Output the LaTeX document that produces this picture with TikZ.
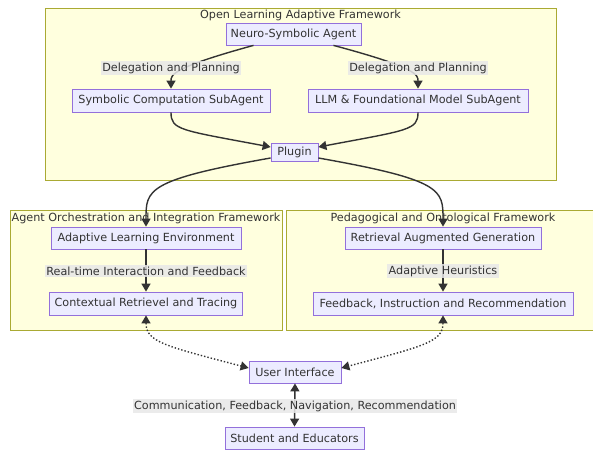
\documentclass[tikz,border=0pt]{standalone}
\usepackage{fontspec}
\setmainfont{DejaVu Sans}
\usetikzlibrary{arrows.meta,calc}
\definecolor{clfill}{HTML}{FFFFDE}
\definecolor{cldraw}{HTML}{AAAA33}
\definecolor{ndfill}{HTML}{ECECFF}
\definecolor{nddraw}{HTML}{9370DB}
\definecolor{txt}{HTML}{333333}
\definecolor{lbl}{HTML}{E8E8E8}
\tikzset{
  cluster/.style={draw=cldraw, fill=clfill, line width=0.8pt, inner sep=0pt},
  ctitle/.style={text=txt, font=\fontsize{11.2}{13}\selectfont, inner sep=0pt},
  box/.style={draw=nddraw, fill=ndfill, line width=0.8pt, text=txt, font=\fontsize{11.2}{13}\selectfont, minimum height=22pt, inner sep=0pt},
  elabel/.style={fill=lbl, fill opacity=0.85, text opacity=1, text=txt, font=\fontsize{11.2}{13}\selectfont, inner sep=1.5pt},
  arr/.style={draw=txt, line width=1.4pt, -{Triangle[length=8pt,width=9pt]}},
  darr/.style={draw=txt, line width=1.4pt, {Triangle[length=8pt,width=9pt]}-{Triangle[length=8pt,width=9pt]}},
  dotarr/.style={darr, dotted, line width=1.4pt}
}
\begin{document}
\begin{tikzpicture}[x=1pt,y=-1pt]
\useasboundingbox (0,0) rectangle (593,449);
% clusters
\node[cluster, minimum width=511pt, minimum height=172pt] (c1) at (300.5,94) {};
\node[ctitle] (t1) at (300.5,15) {Open Learning Adaptive Framework};
\node[cluster, minimum width=272pt, minimum height=120pt] (c2) at (146,270) {};
\node[cluster, minimum width=314pt, minimum height=120pt] (c3) at (443,270) {};
% nodes
\node[box, minimum width=135pt] (neuro) at (293.5,34) {Neuro-Symbolic Agent};
\node[box, minimum width=198pt, minimum height=23pt] (sym) at (171,100.5) {Symbolic Computation SubAgent};
\node[box, minimum width=220pt, minimum height=23pt] (llm) at (418,100.5) {LLM \& Foundational Model SubAgent};
\node[box, minimum width=47pt, minimum height=18pt] (plugin) at (294.5,152) {Plugin};
\node[box, minimum width=190pt] (ale) at (146,238) {Adaptive Learning Environment};
\node[box, minimum width=193pt, minimum height=23pt] (crt) at (146,303.5) {Contextual Retrievel and Tracing};
\node[box, minimum width=196pt] (rag) at (443,238) {Retrieval Augmented Generation};
\node[box, minimum width=260pt, minimum height=23pt] (fir) at (443,303.5) {Feedback, Instruction and Recommendation};
\node[box, minimum width=92pt] (ui) at (295,372) {User Interface};
\node[box, minimum width=139pt] (stu) at (294.5,438) {Student and Educators};
% edges
\draw[arr] ($(neuro.south)+(-40,0)$) .. controls (171,68) and (171,75) .. (sym.north);
\draw[arr] ($(neuro.south)+(40,0)$) .. controls (418,68) and (418,75) .. (llm.north);
\draw[arr] (sym.south) .. controls (171,130) and (180,130) .. ($(plugin.west)+(0,-5)$);
\draw[arr] (llm.south) .. controls (418,130) and (409,130) .. ($(plugin.east)+(0,-5)$);
\draw[arr] ($(plugin.west)+(0,6)$) .. controls (146,180) and (146,190) .. (ale.north);
\draw[arr] ($(plugin.east)+(0,6)$) .. controls (443,180) and (443,190) .. (rag.north);
\draw[arr] (ale.south) -- (crt.north);
\draw[arr] (rag.south) -- (fir.north);
\draw[dotarr] (crt.south) .. controls (146,342) and (165,346) .. ($(ui.west)+(0,-4)$);
\draw[dotarr] (fir.south) .. controls (443,342) and (424,346) .. ($(ui.east)+(0,-4)$);
\draw[darr] (ui.south) -- (stu.north);
% edge labels
\node[elabel] (l1) at (171,68) {Delegation and Planning};
\node[elabel] (l2) at (418,68) {Delegation and Planning};
\node[elabel] (l3) at (146,271) {Real-time Interaction and Feedback};
\node[elabel] (l4) at (443,271) {Adaptive Heuristics};
\node[elabel] (l5) at (295,406) {Communication, Feedback, Navigation, Recommendation};
% cluster titles drawn over edges
\node[ctitle] (t2) at (146,218) {Agent Orchestration and Integration Framework};
\node[ctitle] (t3) at (443,218) {Pedagogical and Ontological Framework};
\end{tikzpicture}
\end{document}
